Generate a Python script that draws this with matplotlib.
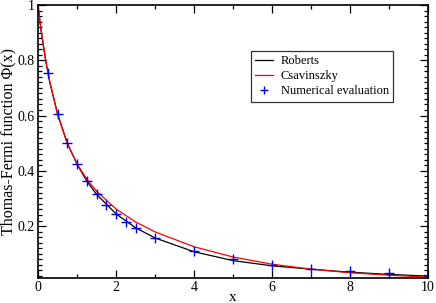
import numpy as np
import matplotlib
matplotlib.use("Agg")
import matplotlib.pyplot as plt
from matplotlib.ticker import MultipleLocator

# ======================================================
# DATA
# ======================================================
x_curve = [0.0, 0.05, 0.1, 0.2, 0.3, 0.5, 0.75, 1.0, 1.25, 1.5, 2.0, 2.5,
           3.0, 4.0, 5.0, 6.0, 7.0, 8.0, 9.0, 10.0]
roberts = [1.0, 0.938, 0.885, 0.795, 0.721, 0.607, 0.500, 0.424, 0.363, 0.315,
           0.244, 0.194, 0.157, 0.107, 0.075, 0.056, 0.044, 0.033, 0.025, 0.019]
csavinszky = [1.0, 0.942, 0.890, 0.799, 0.723, 0.604, 0.499, 0.425, 0.370,
              0.326, 0.262, 0.215, 0.179, 0.125, 0.088, 0.062, 0.044, 0.031,
              0.022, 0.015]

x_num = [0.25, 0.5, 0.75, 1.0, 1.25, 1.5, 1.75, 2.0, 2.25, 2.5, 3.0, 4.0,
         5.0, 6.0, 7.0, 8.0, 9.0, 10.0]
phi_num = [0.755, 0.607, 0.500, 0.424, 0.363, 0.315, 0.275, 0.243, 0.215,
           0.193, 0.157, 0.108, 0.079, 0.059, 0.046, 0.037, 0.030, 0.024]

x_ticks = [0, 2, 4, 6, 8, 10]
y_ticks = [0.2, 0.4, 0.6, 0.8, 1.0]
y_ticklabels = ["0.2", "0.4", "0.6", "0.8", "1"]

# ======================================================
# PLOT
# ======================================================
plt.rcParams["font.family"] = ["Liberation Serif", "DejaVu Serif"]

fig = plt.figure(figsize=(4.36, 3.03), dpi=100)
ax = fig.add_axes([0.0872, 0.0825, 0.8945, 0.901])

ax.plot(x_curve, roberts, color="black", lw=0.9, label="Roberts")
ax.plot(x_curve, csavinszky, color="red", lw=0.9, label="Csavinszky")
ax.plot(x_num, phi_num, ls="none", marker="+", color="blue", ms=7.5, mew=1.0,
        label="Numerical evaluation")

ax.set_xlim(0, 10)
ax.set_ylim(0.012, 1.0)
ax.set_xticks(x_ticks)
ax.set_xticklabels([str(t) for t in x_ticks])
ax.xaxis.set_minor_locator(MultipleLocator(1))
ax.set_yticks(y_ticks)
ax.set_yticklabels(y_ticklabels)
ax.yaxis.set_minor_locator(MultipleLocator(0.02))
ax.tick_params(which="both", direction="in", top=True, right=True,
               labelsize=10, width=0.9, pad=2.5)
ax.tick_params(which="major", length=5.5)
ax.tick_params(which="minor", length=3)
for s in ax.spines.values():
    s.set_linewidth(1.2)

ax.set_xlabel("x", fontsize=11, labelpad=-2.5)
ax.set_ylabel("Thomas-Fermi function Φ(x)", fontsize=11.5, labelpad=1)

leg = ax.legend(loc="upper left", bbox_to_anchor=(0.546, 0.832), fontsize=9,
                frameon=True, fancybox=False, edgecolor="black",
                handlelength=1.4, handletextpad=0.65, borderpad=0.35,
                labelspacing=0.25, borderaxespad=0, markerscale=0.8)
leg.get_frame().set_linewidth(0.9)

fig.savefig("out.png", dpi=100)
